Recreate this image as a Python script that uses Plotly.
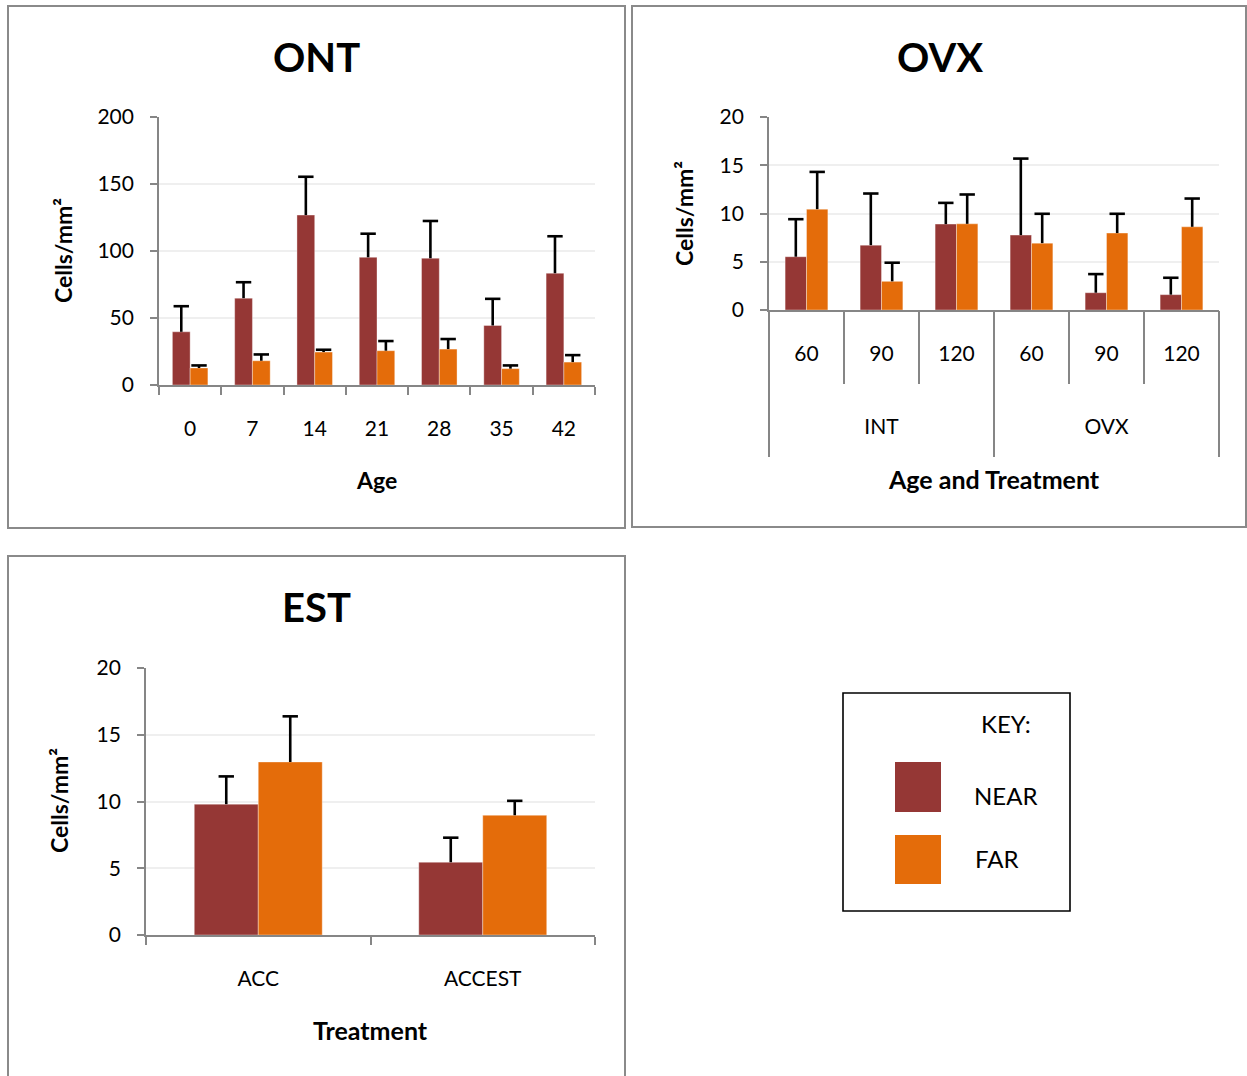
import plotly.graph_objects as go

W, H = 1247, 1076

# ---------------- data ----------------
ont_ages = ["0", "7", "14", "21", "28", "35", "42"]
ont_near = [39.7, 64.8, 126.8, 95.3, 94.6, 44.4, 83.4]
ont_near_err = [19.1, 11.9, 28.6, 17.6, 27.8, 19.9, 27.6]
ont_far = [12.7, 18.1, 24.6, 25.6, 26.8, 12.2, 17.1]
ont_far_err = [1.9, 4.7, 1.7, 7.2, 7.5, 2.4, 5.2]

ovx_ages = ["60", "90", "120", "60", "90", "120"]
ovx_groups = ["INT", "OVX"]
ovx_near = [5.52, 6.72, 8.90, 7.76, 1.79, 1.59]
ovx_near_err = [3.89, 5.35, 2.20, 7.93, 1.93, 1.75]
ovx_far = [10.45, 2.97, 8.93, 6.93, 7.97, 8.62]
ovx_far_err = [3.86, 1.93, 3.04, 3.04, 2.00, 2.93]

est_treat = ["ACC", "ACCEST"]
est_near = [9.80, 5.45]
est_near_err = [2.08, 1.84]
est_far = [12.96, 8.97]
est_far_err = [3.42, 1.08]

ont_ticks = [0, 50, 100, 150, 200]
small_ticks = [0, 5, 10, 15, 20]

NEAR_C = "#953735"
FAR_C = "#E46C0A"
AX_C = "#868686"
GRID_C = "#EFEFEF"
FONT = "Lato"
BW = 0.285


def px(v):
    return v / W


def py(v):
    return 1 - v / H


fig = go.Figure()


def add_panel(xa, ya, near, near_err, far, far_err, cap_xa=None):
    n = len(near)
    idx = list(range(n))
    xn = [i - BW / 2 for i in idx]
    xf = [i + BW / 2 for i in idx]
    for xs, vals, errs, col in ((xn, near, near_err, NEAR_C), (xf, far, far_err, FAR_C)):
        fig.add_trace(go.Bar(
            x=xs, y=vals, width=BW, xaxis=xa, yaxis=ya,
            marker=dict(color=col, line=dict(color="rgba(255,255,255,0.45)", width=0.8)),
            error_y=dict(type="data", symmetric=False, array=errs,
                         arrayminus=[0] * n, color="black", thickness=2.6, width=0),
            showlegend=False, hoverinfo="skip"))
        fig.add_trace(go.Scatter(
            x=xs, y=[v + e for v, e in zip(vals, errs)],
            xaxis=cap_xa or xa, yaxis=ya, mode="markers",
            marker=dict(symbol="line-ew", size=11, color="black",
                        line=dict(color="black", width=2.6)),
            showlegend=False, hoverinfo="skip"))


add_panel("x", "y", ont_near, ont_near_err, ont_far, ont_far_err)
add_panel("x2", "y2", ovx_near, ovx_near_err, ovx_far, ovx_far_err, cap_xa="x4")
add_panel("x3", "y3", est_near, est_near_err, est_far, est_far_err)

tickfont = dict(family=FONT, size=21, color="black")


def yaxis(domain, rng, tv, anchor):
    return dict(domain=domain, range=rng, tickmode="array", tickvals=tv,
                anchor=anchor, showline=True, linecolor=AX_C, linewidth=1.75,
                ticks="outside", ticklen=7, tickcolor=AX_C, tickwidth=1.5,
                showgrid=True, gridcolor=GRID_C, gridwidth=1.5, zeroline=False,
                tickfont=tickfont, ticklabelstandoff=12, fixedrange=True,
                automargin=False)


def xaxis(domain, n, labels, anchor, standoff, minor_len=8):
    return dict(domain=domain, range=[-0.5, n - 0.5], anchor=anchor,
                tickmode="array", tickvals=list(range(n)), ticktext=labels,
                ticks="", showline=True, linecolor=AX_C, linewidth=1.75,
                showgrid=False, zeroline=False, tickfont=tickfont,
                ticklabelstandoff=standoff, automargin=False,
                minor=dict(tickmode="array", tickvals=[i - 0.5 for i in range(n + 1)],
                           ticks="outside", ticklen=minor_len, tickcolor=AX_C,
                           tickwidth=1.5, showgrid=False),
                fixedrange=True)


fig.update_layout(
    width=W, height=H,
    margin=dict(l=0, r=0, t=0, b=0, pad=0, autoexpand=False),
    paper_bgcolor="white", plot_bgcolor="white", barmode="overlay",
    font=dict(family=FONT, color="black"),
    xaxis=xaxis([px(159), px(595)], len(ont_ages), ont_ages, "y", 24),
    yaxis=yaxis([py(385), py(117)], [0, 200], ont_ticks, "x"),
    xaxis2=xaxis([px(769), px(1219)], len(ovx_ages), ovx_ages, "y2", 24, minor_len=72),
    yaxis2=yaxis([py(310), py(117)], [0, 20], small_ticks, "x2"),
    xaxis3=xaxis([px(146), px(595)], len(est_treat), est_treat, "y3", 24),
    yaxis3=yaxis([py(935), py(668)], [0, 20], small_ticks, "x3"),
    xaxis4=dict(overlaying="x2", anchor="y2", range=[-0.5, len(ovx_ages) - 0.5],
                tickmode="array", tickvals=[1, 4], ticktext=ovx_groups, ticks="",
                showline=False, showgrid=False, zeroline=False, tickfont=tickfont,
                ticklabelstandoff=102, side="bottom", automargin=False,
                minor=dict(tickmode="array", tickvals=[-0.5, 2.5, 5.5], ticks="outside",
                           ticklen=146, tickcolor=AX_C, tickwidth=1.5, showgrid=False),
                fixedrange=True),
)

shapes = []
# panel borders
for x0, y0, x1, y1 in ((8, 6, 625, 528), (632, 6, 1246, 527), (8, 556, 625, 1085)):
    shapes.append(dict(type="rect", xref="paper", yref="paper",
                       x0=px(x0), x1=px(x1), y0=py(y1), y1=py(y0),
                       line=dict(color="#8A8A8A", width=2)))
# key box
shapes.append(dict(type="rect", xref="paper", yref="paper",
                   x0=px(843), x1=px(1070), y0=py(911), y1=py(693),
                   line=dict(color="black", width=1.6)))
for (y0, y1), col in (((762, 812), NEAR_C), ((835, 884), FAR_C)):
    shapes.append(dict(type="rect", xref="paper", yref="paper",
                       x0=px(895), x1=px(941), y0=py(y1), y1=py(y0),
                       fillcolor=col, line=dict(width=0)))

ann = []


def text(t, x, y, size, bold=False, angle=0, xanchor="center"):
    ann.append(dict(text=("<b>%s</b>" % t) if bold else t, x=px(x), y=py(y),
                    xref="paper", yref="paper", showarrow=False, textangle=angle,
                    xanchor=xanchor, yanchor="middle",
                    font=dict(family=FONT, size=size, color="black")))


text("ONT", 316, 57, 40, True)
text("OVX", 940, 57, 40, True)
text("EST", 316, 607, 40, True)
text("Cells/mm²", 63, 251, 23, True, -90)
text("Cells/mm²", 684, 214, 23, True, -90)
text("Cells/mm²", 59, 801, 23, True, -90)
text("Age", 376, 480, 23, True)
text("Age and Treatment", 994, 479, 25, True)
text("Treatment", 370, 1030, 25, True)
text("KEY:", 979, 723, 24, xanchor="left")
text("NEAR", 972, 795, 24, xanchor="left")
text("FAR", 973, 858, 24, xanchor="left")

fig.update_layout(shapes=shapes, annotations=ann)

fig.write_html("out.html", config={"displayModeBar": False},
               post_script="document.body.style.margin='0';")
